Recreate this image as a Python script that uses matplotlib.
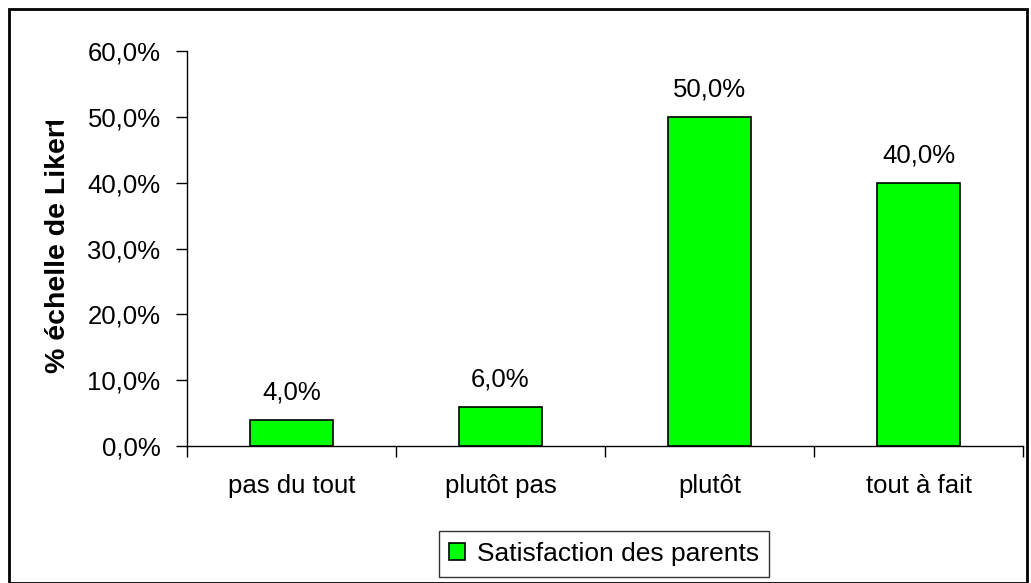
import matplotlib.pyplot as plt
from matplotlib.patches import Rectangle
from matplotlib.ticker import FuncFormatter
from matplotlib.transforms import Bbox, TransformedBbox

categories = ["pas du tout", "plutôt pas", "plutôt", "tout à fait"]
values = [4.0, 6.0, 50.0, 40.0]
series_name = "Satisfaction des parents"

plt.rcParams["font.family"] = ["Liberation Sans", "DejaVu Sans"]
FS = 18.5

fig = plt.figure(figsize=(10.31, 5.83), dpi=100)
ax = fig.add_axes([187 / 1031, 1 - 446 / 583, (1023 - 187) / 1031, (446 - 51) / 583])

x = range(len(categories))
bars = ax.bar(x, values, width=0.4, color="#00ff00", edgecolor="black", linewidth=1.2,
              label=series_name)
for b, v in zip(bars, values):
    ax.annotate(f"{v:.1f}%".replace(".", ","), (b.get_x() + b.get_width() / 2, v),
                xytext=(0, 11), textcoords="offset points", ha="center", va="bottom",
                fontsize=FS)

ax.set_xlim(-0.5, len(categories) - 0.5)
ax.set_ylim(0, 60)
ax.set_yticks(range(0, 61, 10))
ax.yaxis.set_major_formatter(FuncFormatter(lambda v, p: f"{v:.1f}%".replace(".", ",")))
ax.set_xticks([i - 0.5 for i in range(len(categories) + 1)], minor=False)
ax.set_xticklabels([])
ax.set_xticks(list(x), minor=True)
ax.set_xticklabels(categories, minor=True, fontsize=FS)
ax.tick_params(axis="x", which="minor", length=0, pad=20)
ax.tick_params(axis="x", which="major", length=8, width=1, direction="out")
ax.tick_params(axis="y", length=8, width=1, direction="out", labelsize=FS, pad=11)
for s in ["top", "right"]:
    ax.spines[s].set_visible(False)
ax.spines["left"].set_linewidth(1)
ax.spines["bottom"].set_linewidth(1)

# y label, cut at the top as in the original chart
ylab = fig.text(58 / 1031, 1 - 373 / 583, "% échelle de Likert", rotation=90, ha="center",
                va="bottom", fontsize=20.5, fontweight="bold")
ylab.set_clip_box(TransformedBbox(Bbox([[0, 0], [1, 1 - 121 / 583]]), fig.transFigure))
ylab.set_clip_on(True)

leg = fig.legend(loc="center", bbox_to_anchor=(604 / 1031, 1 - 554 / 583), fontsize=19,
                 frameon=True, fancybox=False, handlelength=0.6, handleheight=0.6,
                 handletextpad=0.45, borderpad=0.4, borderaxespad=0)
leg.get_frame().set_edgecolor("black")
leg.get_frame().set_linewidth(1)

fig.patches.append(Rectangle((9 / 1031, 0), (1027 - 9) / 1031, 1 - 9 / 583,
                             transform=fig.transFigure, fill=False, edgecolor="black",
                             linewidth=2))

fig.savefig("out.png", dpi=100)
